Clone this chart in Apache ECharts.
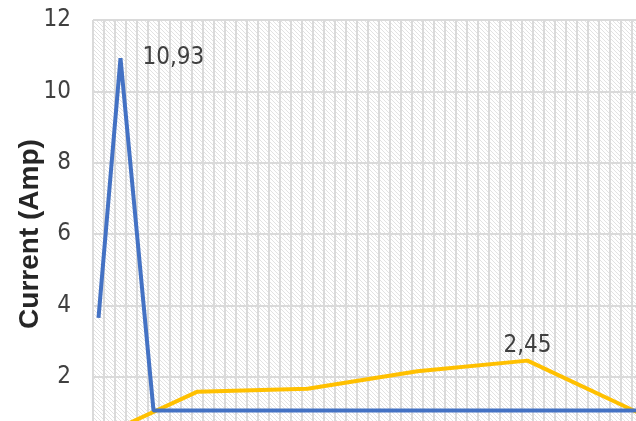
<!DOCTYPE html>
<html>
<head>
<meta charset="utf-8">
<script src="https://cdn.jsdelivr.net/npm/echarts@6/dist/echarts.min.js"></script>
<style>html,body{margin:0;padding:0;background:#fff}#c{width:636px;height:421px}</style>
</head>
<body>
<div id="c"></div>
<script>
// categories (sample index along x)
const categories = Array.from({length: 50}, (_, i) => String(i));
// series values as [categoryIndex, value]
const blueSeries = [[0, 3.65], [2, 10.93], [5, 1.05], [9, 1.05], [19, 1.05], [29, 1.05], [39, 1.05], [49, 1.05]];
const yellowSeries = [[0, 0.3], [9, 1.58], [19, 1.66], [29, 2.15], [39, 2.45], [49, 1.0]];
const blueLabelIndex = 1;
const yellowLabelIndex = 4;
const yTicks = {min: 0, max: 12, interval: 2};

const FONT = '"Liberation Sans Narrow","DejaVu Sans Condensed","Liberation Sans",sans-serif';

function hatch() {
  const c = document.createElement('canvas');
  c.width = 4; c.height = 4;
  const g = c.getContext('2d');
  g.fillStyle = '#ffffff'; g.fillRect(0, 0, 4, 4);
  g.fillStyle = '#e2e2e2';
  for (let i = 0; i < 4; i++) g.fillRect(i, i, 1, 1);
  return c;
}

const fmt = p => String(p.value[1]).replace('.', ',');
function withLabels(data, idx, label) {
  return data.map((d, i) => i === idx ? {value: d, label: Object.assign({show: true, formatter: fmt}, label)} : d);
}

const chart = echarts.init(document.getElementById('c'));
chart.setOption({
  animation: false,
  grid: {left: 93, top: 20, width: 550, height: 428, show: true, borderWidth: 0, containLabel: false,
         outerBoundsMode: 'none',
         backgroundColor: {image: hatch(), repeat: 'repeat'}},
  xAxis: {
    type: 'category', data: categories, boundaryGap: true,
    axisLine: {show: false}, axisTick: {show: false, interval: 0}, axisLabel: {show: false, interval: 0},
    splitLine: {show: true, interval: 0, lineStyle: {color: '#dadada', width: 2}}
  },
  yAxis: {
    type: 'value', min: yTicks.min, max: yTicks.max, interval: yTicks.interval,
    name: 'Current (Amp)', nameLocation: 'middle', nameGap: 49, nameRotate: 90, nameMoveOverlap: false,
    nameTextStyle: {fontFamily: '"Liberation Sans",Arial,sans-serif', fontWeight: 'bold', fontSize: 28, color: '#262626'},
    axisLine: {show: false}, axisTick: {show: false},
    axisLabel: {fontFamily: FONT, fontSize: 24, color: '#404040', margin: 22},
    splitLine: {show: true, lineStyle: {color: '#dadada', width: 2}}
  },
  series: [
    {type: 'line', data: withLabels(blueSeries, blueLabelIndex, {position: 'right', distance: 22, fontFamily: FONT, fontSize: 24, color: '#404040'}),
     symbol: 'circle', symbolSize: 0, showSymbol: true, lineStyle: {color: '#4472C4', width: 4}, itemStyle: {color: '#4472C4'}, z: 3},
    {type: 'line', data: withLabels(yellowSeries, yellowLabelIndex, {position: 'top', distance: 3, fontFamily: FONT, fontSize: 24, color: '#404040'}),
     symbol: 'circle', symbolSize: 0, showSymbol: true, lineStyle: {color: '#FFC000', width: 4}, itemStyle: {color: '#FFC000'}, z: 2}
  ]
});
</script>
</body>
</html>
